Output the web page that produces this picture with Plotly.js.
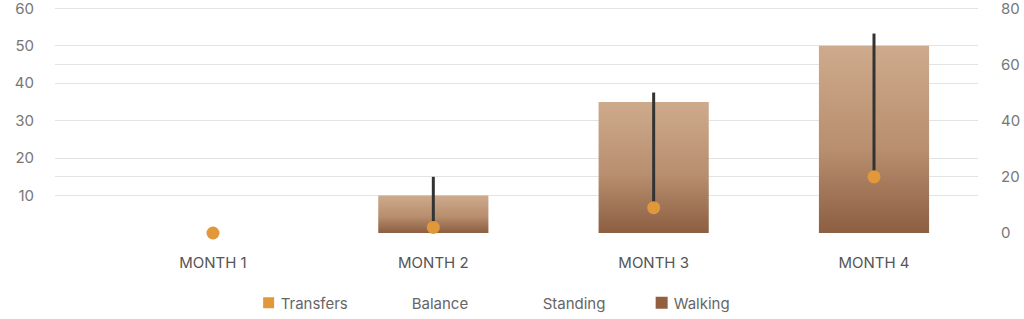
<!DOCTYPE html>
<html>
<head>
<meta charset="utf-8">
<script src="https://cdn.plot.ly/plotly-3.0.1.min.js"></script>
<style>
html,body{margin:0;padding:0;background:#fff;}
#chart{width:1024px;height:319px;}
</style>
</head>
<body>
<div id="chart"></div>
<script>
// ---- data ----
var categories = ["MONTH 1", "MONTH 2", "MONTH 3", "MONTH 4"];
var walking = [0, 10, 35, 50];          // bars, left axis
var transfers = [0, 2, 9, 20];          // dots, right axis
var balance = [0, 20, 50, 71];          // top of high-low line, right axis
var standing = [0, 20, 50, 71];         // hidden line series, right axis
var leftTicks = [10, 20, 30, 40, 50, 60];
var rightTicks = [0, 20, 40, 60, 80];

var upper = balance.map(function (b, i) {
  return Math.max(b, standing[i]) - transfers[i];
});

var font = "Inter, 'Open Sans', sans-serif";

var traces = [
  {
    type: "scatter", mode: "markers", name: "Transfers",
    x: categories, y: transfers, yaxis: "y2",
    marker: {color: "#E0983B", size: 13},
    error_y: {type: "data", symmetric: false, array: upper,
      arrayminus: transfers.map(function () { return 0; }),
      color: "#333333", thickness: 3, width: 0},
    cliponaxis: false, hoverinfo: "x+y"
  },
  {
    type: "scatter", mode: "lines", name: "Balance",
    x: categories, y: balance, yaxis: "y2",
    line: {width: 0, color: "rgba(0,0,0,0)"}
  },
  {
    type: "scatter", mode: "lines", name: "Standing",
    x: categories, y: standing, yaxis: "y2",
    line: {width: 0, color: "rgba(0,0,0,0)"}
  },
  {
    type: "bar", name: "Walking",
    x: categories, y: walking, width: 0.5,
    marker: {color: "#93603F", line: {width: 0}}
  }
];

var layout = {
  width: 1024, height: 319,
  margin: {l: 55, r: 46, t: 5.75, b: 86, autoexpand: false},
  paper_bgcolor: "#fff", plot_bgcolor: "#fff",
  font: {family: font, color: "#666", size: 14},
  showlegend: true,
  legend: {
    orientation: "h", x: 0.485, xanchor: "center", y: -0.308, yanchor: "middle",
    font: {family: font, size: 15, color: "#666"},
    traceorder: "normal", entrywidth: 86, entrywidthmode: "pixels",
    itemwidth: 30
  },
  xaxis: {
    type: "category", range: [-0.717, 3.472],
    showgrid: false, zeroline: false, showline: false, ticks: "",
    ticklabelstandoff: 19,
    tickfont: {family: font, size: 15, color: "#555"}
  },
  yaxis: {
    range: [0, 60.6], tickvals: leftTicks, ticktext: leftTicks.map(String),
    showgrid: true, gridcolor: "#E3E3E3", gridwidth: 1,
    zeroline: false, showline: false, ticks: "", ticklabelstandoff: 20,
    ticklabeloverflow: "allow",
    tickfont: {family: font, size: 15, color: "#777"}
  },
  yaxis2: {
    range: [0, 80.8], tickvals: rightTicks, overlaying: "y", side: "right",
    showgrid: true, gridcolor: "#E3E3E3", gridwidth: 1,
    zeroline: false, showline: false, ticks: "", ticklabelstandoff: 22,
    ticklabeloverflow: "allow",
    tickfont: {family: font, size: 15, color: "#777"}
  },
  bargap: 0.5
};

Plotly.newPlot("chart", traces, layout, {displayModeBar: false, staticPlot: true}).then(function (gd) {
  var svgNS = "http://www.w3.org/2000/svg";
  var svg = gd.querySelector(".main-svg");
  var defs = svg.querySelector("defs") || svg.insertBefore(document.createElementNS(svgNS, "defs"), svg.firstChild);
  var g = document.createElementNS(svgNS, "linearGradient");
  g.setAttribute("id", "walkGrad");
  g.setAttribute("x1", "0"); g.setAttribute("y1", "0");
  g.setAttribute("x2", "0"); g.setAttribute("y2", "1");
  [["0", "#CEAA8C"], ["0.55", "#B88F6F"], ["1", "#8C5E42"]].forEach(function (s) {
    var st = document.createElementNS(svgNS, "stop");
    st.setAttribute("offset", s[0]);
    st.setAttribute("stop-color", s[1]);
    g.appendChild(st);
  });
  defs.appendChild(g);
  gd.querySelectorAll(".barlayer .point path").forEach(function (p) {
    p.style.fill = "url(#walkGrad)";
  });
  // legend: square symbol for Transfers, symbols closer to text
  gd.querySelectorAll(".legend .traces").forEach(function (t) {
    var txt = t.querySelector(".legendtext");
    var lp = t.querySelector(".legendpoints");
    if (lp) { lp.setAttribute("transform", "translate(8,0)"); }
    if (txt && txt.textContent === "Transfers") {
      var pt = t.querySelector(".legendpoints path.scatterpts");
      if (pt) { pt.setAttribute("d", "M5.5,5.5H-5.5V-5.5H5.5Z"); }
    }
  });
});
</script>
</body>
</html>
